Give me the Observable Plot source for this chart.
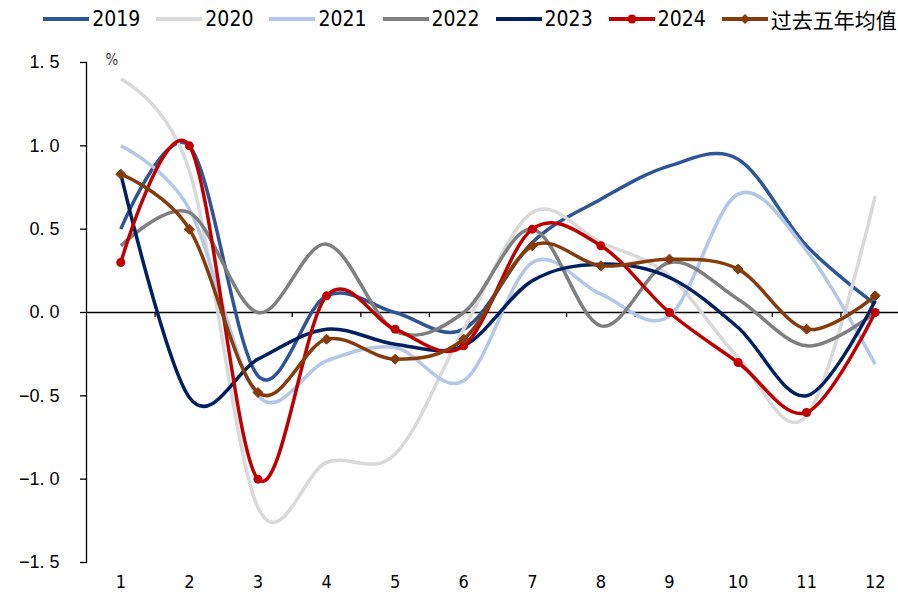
<!DOCTYPE html>
<html>
<head>
<meta charset="utf-8">
<script src="https://cdn.jsdelivr.net/npm/d3@7"></script>
<script src="https://cdn.jsdelivr.net/npm/@observablehq/plot@0.6"></script>
<style>
  html, body { margin: 0; padding: 0; background: #fff; }
  body { width: 898px; height: 595px; overflow: hidden; }
  #legend { height: 38px; display: flex; align-items: center; justify-content: center; gap: 16px; padding-left: 42px; box-sizing: border-box;
    font-family: "Liberation Sans Narrow", "DejaVu Sans Condensed", "Noto Sans CJK SC", sans-serif; font-size: 21px; color: #000; }
  .item { display: flex; align-items: center; gap: 3px; white-space: nowrap; }
  .item svg { display: block; }
</style>
</head>
<body>
<div id="legend"></div>
<div id="chart"></div>
<script>
// ---- data ----
const months = [1, 2, 3, 4, 5, 6, 7, 8, 9, 10, 11, 12];
const s2019 = [0.5, 1.0, -0.38, 0.1, 0.0, -0.1, 0.42, 0.68, 0.88, 0.92, 0.4, 0.05];
const s2020 = [1.4, 0.85, -1.17, -0.9, -0.85, -0.1, 0.6, 0.42, 0.22, -0.27, -0.62, 0.7];
const s2021 = [1.0, 0.62, -0.5, -0.29, -0.21, -0.41, 0.3, 0.11, -0.02, 0.71, 0.37, -0.31];
const s2022 = [0.4, 0.6, 0.0, 0.41, -0.11, 0.0, 0.5, -0.08, 0.3, 0.08, -0.2, 0.0];
const s2023 = [0.83, -0.51, -0.28, -0.1, -0.19, -0.2, 0.19, 0.29, 0.21, -0.09, -0.5, 0.07];
const s2024 = [0.3, 1.0, -1.0, 0.1, -0.1, -0.2, 0.5, 0.4, 0.0, -0.3, -0.6, 0.0];
const sAvg  = [0.83, 0.5, -0.48, -0.16, -0.28, -0.16, 0.4, 0.28, 0.32, 0.26, -0.1, 0.1];

const seriesNames = ["2019", "2020", "2021", "2022", "2023", "2024", "过去五年均值"];
const seriesColors = ["#2f5597", "#d9d9d9", "#b4c7e7", "#7f7f7f", "#002060", "#c00000", "#843c0c"];
const seriesValues = [s2019, s2020, s2021, s2022, s2023, s2024, sAvg];
const yTicks = [-1.5, -1.0, -0.5, 0.0, 0.5, 1.0, 1.5];
const xBounds = [1.5, 2.5, 3.5, 4.5, 5.5, 6.5, 7.5, 8.5, 9.5, 10.5, 11.5];

const table = [];
seriesNames.forEach((name, i) => {
  months.forEach((m, j) => table.push({series: name, month: m, value: seriesValues[i][j]}));
});
const redPts = table.filter(d => d.series === "2024");
const avgPts = table.filter(d => d.series === "过去五年均值");

// ---- legend ----
const legend = document.getElementById("legend");
seriesNames.forEach((name, i) => {
  const c = seriesColors[i];
  let marker = "";
  if (name === "2024") marker = `<circle cx="23" cy="6" r="4.5" fill="${c}"/>`;
  if (name === "过去五年均值") marker = `<path d="M23,1 L28,6 L23,11 L18,6 Z" fill="${c}"/>`;
  const el = document.createElement("div");
  el.className = "item";
  el.innerHTML = `<svg width="46" height="12"><line x1="0" x2="46" y1="6" y2="6" stroke="${c}" stroke-width="4"/>${marker}</svg><span>${name}</span>`;
  legend.appendChild(el);
});

// ---- chart ----
const fmt = d => (d < 0 ? "−" : "") + Math.abs(d).toFixed(1).replace(".", ". ");

const chart = Plot.plot({
  width: 898,
  height: 557,
  marginLeft: 86,
  marginRight: 0,
  marginTop: 24,
  marginBottom: 33,
  style: {fontFamily: "Liberation Sans, Arial, sans-serif", fontSize: "16px", color: "#000", background: "#fff"},
  x: {domain: [0.5, 12.5], range: [86, 909]},
  y: {domain: [-1.5, 1.5]},
  color: {domain: seriesNames, range: seriesColors},
  marks: [
    Plot.ruleY([0], {stroke: "#000", strokeWidth: 1.3}),
    Plot.ruleX(xBounds, {x: d => d, y1: 0, y2: 0, insetBottom: -5, stroke: "#000", strokeWidth: 1.3}),
    Plot.frame({anchor: "left", stroke: "#000", strokeWidth: 1.3}),
    Plot.axisY(yTicks, {tickSize: 6, tickPadding: 21, tickFormat: fmt, fontSize: 18, label: null, stroke: "#000", strokeWidth: 1.3}),
    Plot.axisX(months, {tickSize: 0, tickPadding: 13, fontSize: 18, label: null,
      fontFamily: "Liberation Sans Narrow, DejaVu Sans Condensed, sans-serif"}),
    Plot.text(["%"], {frameAnchor: "top-left", dx: 19, dy: -8, fontSize: 15, fill: "#404040",
      fontFamily: "Liberation Sans Narrow, DejaVu Sans Condensed, sans-serif"}),
    Plot.line(table, {x: "month", y: "value", z: "series", stroke: "series", curve: "cardinal",
      strokeWidth: 3.5, strokeLinejoin: "round", strokeLinecap: "butt"}),
    Plot.dot(redPts, {x: "month", y: "value", r: 4.5, fill: "#c00000", stroke: "none"}),
    Plot.dot(avgPts, {x: "month", y: "value", symbol: "diamond2", r: 4.5, fill: "#843c0c", stroke: "#843c0c", strokeWidth: 1})
  ]
});
document.getElementById("chart").appendChild(chart);
</script>
</body>
</html>
